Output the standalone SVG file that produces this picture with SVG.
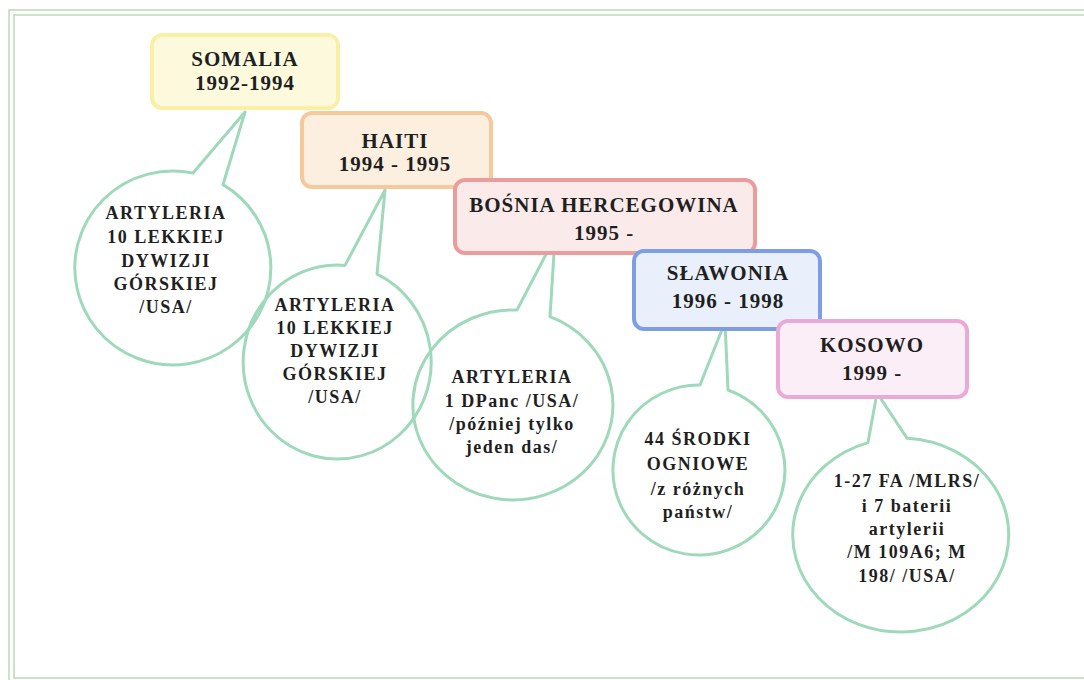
<svg xmlns="http://www.w3.org/2000/svg" width="1084" height="680" viewBox="0 0 1084 680">
<style>
.t{font-family:"Liberation Serif","Times New Roman",serif;font-weight:bold;fill:#1f1f1f;text-anchor:middle}
.h{font-size:21px;letter-spacing:1px}
.b{font-size:18px;letter-spacing:1.5px}
.box{stroke-width:4}
.bub{fill:none;stroke:#9fd9bb;stroke-width:3;stroke-linejoin:round}
.frame{fill:none;stroke:#b9dcb2;stroke-width:1.5}
</style>
<rect width="1084" height="680" fill="#ffffff"/>
<rect class="frame" x="9" y="10" width="1100" height="690"/>
<rect class="frame" x="14" y="15" width="1100" height="663"/>

<g id="connectors">
<path id="c1" class="bub" d="M193,173 L245,112 L223,184.6 A98,97 0 1 1 193,173 Z"/>
<path id="c2" class="bub" d="M345,265.4 L385,190 L377,274.2 A94,97 0 1 1 345,265.4 Z"/>
<path id="c3" class="bub" d="M517,310 L555,237 L550,316.7 A100,95 0 1 1 517,310 Z"/>
<path id="c4" class="bub" d="M700,385 L725,322 L728,390 A86,85 0 1 1 700,385 Z"/>
<path id="c5" class="bub" d="M868,442.6 L877,393 L907,438.2 A108,97 0 1 1 868,442.6 Z"/>
</g>

<g id="somalia">
<rect class="box" x="152" y="35" width="186" height="73" rx="10" fill="#fdf9dd" stroke="#f9f0a6"/>
<text class="t h" x="245" y="66">SOMALIA</text>
<text class="t h" x="245" y="90">1992-1994</text>
</g>
<g id="haiti">
<rect class="box" x="302" y="113" width="189" height="74" rx="10" fill="#fcefe0" stroke="#f4c99b"/>
<text class="t h" x="395" y="148">HAITI</text>
<text class="t h" x="395" y="171">1994 - 1995</text>
</g>
<g id="bosnia">
<rect class="box" x="455" y="180" width="300" height="73" rx="10" fill="#fbeaea" stroke="#eb9c9c"/>
<text class="t h" x="604" y="212">BOŚNIA HERCEGOWINA</text>
<text class="t h" x="604" y="240">1995 -</text>
</g>
<g id="slawonia">
<rect class="box" x="634" y="251" width="186" height="78" rx="10" fill="#e9f0fb" stroke="#7f9de2"/>
<text class="t h" x="728" y="280">SŁAWONIA</text>
<text class="t h" x="728" y="308">1996 - 1998</text>
</g>
<g id="kosowo">
<rect class="box" x="778" y="321" width="189" height="76" rx="10" fill="#fbeef7" stroke="#eaa9d7"/>
<text class="t h" x="872" y="352">KOSOWO</text>
<text class="t h" x="872" y="380">1999 -</text>
</g>

<g id="note1">
<text class="t b" x="166" y="219">ARTYLERIA</text>
<text class="t b" x="166" y="243">10 LEKKIEJ</text>
<text class="t b" x="166" y="267">DYWIZJI</text>
<text class="t b" x="166" y="290">GÓRSKIEJ</text>
<text class="t b" x="166" y="313">/USA/</text>
</g>
<g id="note2">
<text class="t b" x="335" y="311">ARTYLERIA</text>
<text class="t b" x="335" y="334">10 LEKKIEJ</text>
<text class="t b" x="335" y="357">DYWIZJI</text>
<text class="t b" x="335" y="380">GÓRSKIEJ</text>
<text class="t b" x="335" y="403">/USA/</text>
</g>
<g id="note3">
<text class="t b" x="512" y="383">ARTYLERIA</text>
<text class="t b" x="512" y="407">1 DPanc /USA/</text>
<text class="t b" x="512" y="430">/później tylko</text>
<text class="t b" x="512" y="453">jeden das/</text>
</g>
<g id="note4">
<text class="t b" x="698" y="445">44 ŚRODKI</text>
<text class="t b" x="698" y="470">OGNIOWE</text>
<text class="t b" x="698" y="495">/z różnych</text>
<text class="t b" x="698" y="518">państw/</text>
</g>
<g id="note5">
<text class="t b" x="907" y="487">1-27 FA /MLRS/</text>
<text class="t b" x="907" y="512">i 7 baterii</text>
<text class="t b" x="907" y="535">artylerii</text>
<text class="t b" x="907" y="558">/M 109A6; M</text>
<text class="t b" x="907" y="582">198/ /USA/</text>
</g>
</svg>
